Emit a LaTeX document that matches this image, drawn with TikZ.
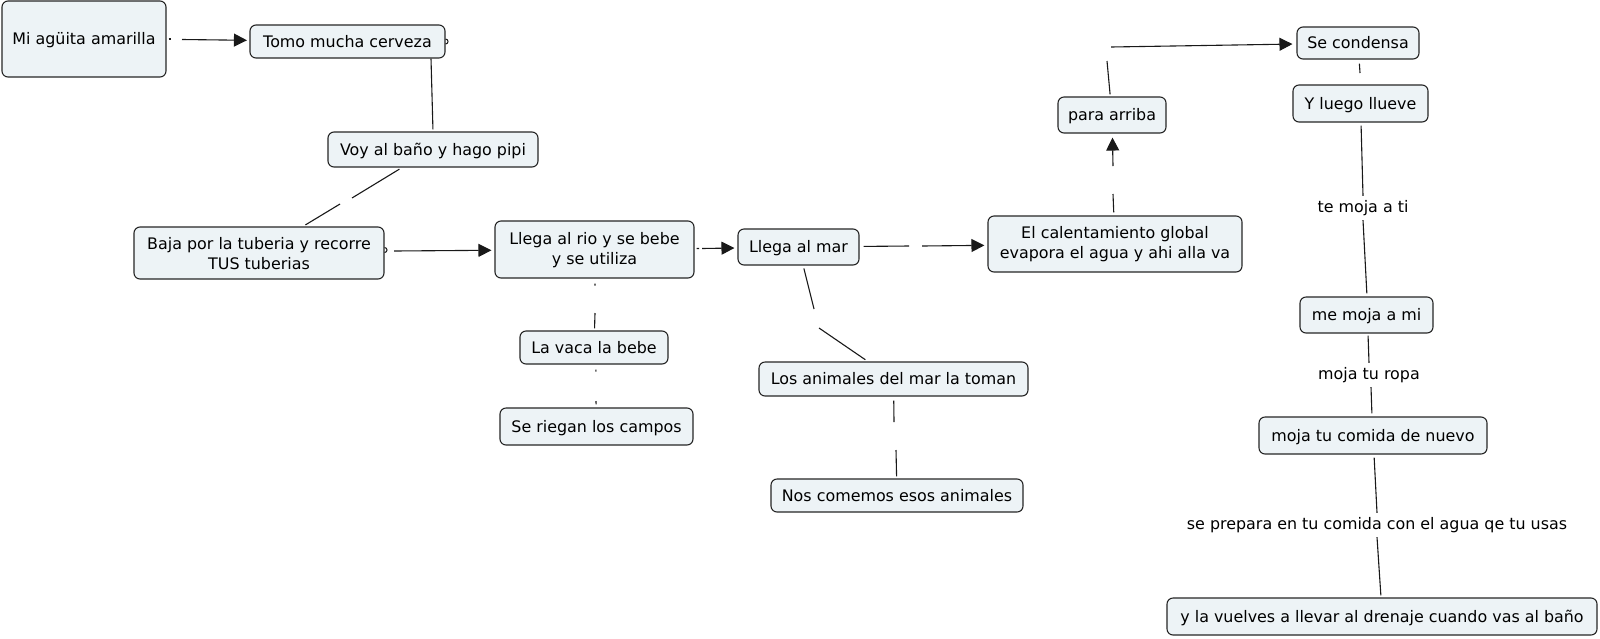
\documentclass[tikz,border=0pt]{standalone}
\usepackage{fontspec}
\setmainfont{DejaVu Sans}
\usetikzlibrary{arrows.meta}
\definecolor{cfill}{RGB}{237,243,246}
\begin{document}
\begin{tikzpicture}[x=1pt,y=-1pt,
  font=\fontsize{15.9}{20.5}\selectfont,
  base/.style={draw=black!85, line width=1.1pt, fill=cfill, rounded corners=6pt, inner sep=0pt, align=center},
  concept/.style={base, text height=13.5pt, text depth=2.5pt},
  lbl/.style={inner xsep=2pt, inner ysep=4pt, text height=12pt, text depth=4pt},
  conn/.style={line width=1.1pt, draw=black!90},
  arr/.style={conn, -{Triangle[length=13pt,width=13pt]}},
  bump/.style={line width=1pt, draw=black!90},
]
\fill[white] (0,0) rectangle (1600,638);
\useasboundingbox (0,0) rectangle (1600,638);

% concepts
\node[concept, minimum width=164pt, minimum height=76pt] (mi) at (84,39) {Mi agüita amarilla};
\node[concept, minimum width=195pt, minimum height=33pt] (tomo) at (347.5,41.5) {Tomo mucha cerveza};
\node[concept, minimum width=210pt, minimum height=35pt] (voy) at (433,149.5) {Voy al baño y hago pipi};
\node[base, minimum width=250pt, minimum height=52pt] (baja) at (259,253) {\rule{0pt}{13pt}Baja por la tuberia y recorre\\TUS tuberias};
\node[base, minimum width=199pt, minimum height=57pt] (rio) at (594.5,249.5) {\rule{0pt}{13pt}Llega al rio y se bebe\\y se utiliza};
\node[concept, minimum width=121pt, minimum height=36pt] (mar) at (798.5,247) {Llega al mar};
\node[base, minimum width=254pt, minimum height=56pt] (cal) at (1115,244) {El calentamiento global\\evapora el agua y ahi alla va};
\node[concept, minimum width=108pt, minimum height=36pt] (arriba) at (1112,115) {para arriba};
\node[concept, minimum width=122pt, minimum height=32pt] (cond) at (1358,43) {Se condensa};
\node[concept, minimum width=135pt, minimum height=37pt] (llueve) at (1360.5,103.5) {Y luego llueve};
\node[concept, minimum width=133pt, minimum height=36pt] (mojami) at (1366.5,315) {me moja a mi};
\node[concept, minimum width=228pt, minimum height=37pt] (comida) at (1373,435.5) {moja tu comida de nuevo};
\node[concept, minimum width=430pt, minimum height=37pt] (vuelves) at (1382,616.5) {y la vuelves a llevar al drenaje cuando vas al baño};
\node[concept, minimum width=148pt, minimum height=33pt] (vaca) at (594,347.5) {La vaca la bebe};
\node[concept, minimum width=193pt, minimum height=37pt] (riegan) at (596.5,426.5) {Se riegan los campos};
\node[concept, minimum width=269pt, minimum height=34pt] (animales) at (893.5,379) {Los animales del mar la toman};
\node[concept, minimum width=252pt, minimum height=33pt] (nos) at (897,495.5) {Nos comemos esos animales};

% linking phrases
\node[lbl] (tm) at (1363,208) {te moja a ti};
\node[lbl] (tr) at (1369,375) {moja tu ropa};
\node[lbl] (sp) at (1377,525) {se prepara en tu comida con el agua qe tu usas};

% gap coordinates
\coordinate (a1) at (171,39);   \coordinate (a2) at (182,39.5);
\coordinate (b1) at (431,0);    \coordinate (b2) at (433,0);
\coordinate (c0) at (402,0);    \coordinate (c1) at (352,198); \coordinate (c2) at (340,204);
\coordinate (d0) at (0,250);    \coordinate (d1) at (394,251);
\coordinate (e1) at (699,248.5); \coordinate (e2) at (702,248.5);
\coordinate (f1) at (595,285.5); \coordinate (f2) at (595,313);
\coordinate (g1) at (596,371.5); \coordinate (g2) at (596,401);
\coordinate (h1) at (909,246);  \coordinate (h2) at (922,246);
\coordinate (i1) at (814,309);  \coordinate (i2) at (819,328);
\coordinate (j1) at (894,422);  \coordinate (j2) at (896,450);
\coordinate (k1) at (1113,194); \coordinate (k2) at (1113,166);
\coordinate (l1) at (1107,61);  \coordinate (l2) at (1111,47);
\coordinate (m1) at (1360,73);
\coordinate (nA) at (1361,0); \coordinate (nB) at (1363,0); \coordinate (nC) at (1367,0);
\coordinate (oA) at (1368,0); \coordinate (oB) at (1369,0); \coordinate (oC) at (1371,0); \coordinate (oD) at (1372,0);
\coordinate (pA) at (1374,0); \coordinate (pB) at (1377,0); \coordinate (pC) at (1381,0);

% connectors
\draw[conn, shorten <=2pt] (mi) -- (a1);
\draw[arr, shorten >=2.5pt] (a2) -- (tomo);

\draw[bump] (tomo.east) ++(0,-2.5) arc[start angle=90, end angle=-90, radius=2.5pt];
\draw[conn, shorten >=2pt] (tomo.south -| b1) -- (voy.north -| b2);

\draw[conn, shorten <=3pt] (voy.south -| c0) -- (c1);
\draw[conn, shorten >=3pt] (c2) -- (baja);

\draw[bump] (baja.east |- d0) ++(0,-2.5) arc[start angle=90, end angle=-90, radius=2.5pt];
\draw[arr, shorten >=3pt] (d1) -- (rio);

\draw[conn, shorten <=2pt] (rio) -- (e1);
\draw[arr, shorten >=3pt] (e2) -- (mar);

\draw[conn, shorten <=5pt] (rio) -- (f1);
\draw[conn, shorten >=2pt] (f2) -- (vaca);

\draw[conn, shorten <=5pt] (vaca) -- (g1);
\draw[conn, shorten >=3pt] (g2) -- (riegan);

\draw[conn, shorten <=4pt] (mar) -- (h1);
\draw[arr, shorten >=3pt] (h2) -- (cal);

\draw[conn, shorten <=3pt] (mar) -- (i1);
\draw[conn, shorten >=3pt] (i2) -- (animales);

\draw[conn, shorten <=4pt] (animales) -- (j1);
\draw[conn, shorten >=2pt] (j2) -- (nos);

\draw[conn, shorten <=3pt] (cal) -- (k1);
\draw[arr, shorten >=4pt] (k2) -- (arriba);

\draw[conn, shorten <=2pt] (arriba) -- (l1);
\draw[arr, shorten >=4pt] (l2) -- (cond);

\draw[conn, shorten <=4pt] (cond) -- (m1);

\draw[conn, shorten <=3pt] (llueve.south -| nA) -- (tm.north -| nB);
\draw[conn, shorten >=3pt] (tm.south -| nB) -- (mojami.north -| nC);

\draw[conn, shorten <=2pt] (mojami.south -| oA) -- (tr.north -| oB);
\draw[conn, shorten >=3pt] (tr.south -| oC) -- (comida.north -| oD);

\draw[conn, shorten <=3pt] (comida.south -| pA) -- (sp.north -| pB);
\draw[conn, shorten >=2pt] (sp.south -| pB) -- (vuelves.north -| pC);
\end{tikzpicture}
\end{document}
